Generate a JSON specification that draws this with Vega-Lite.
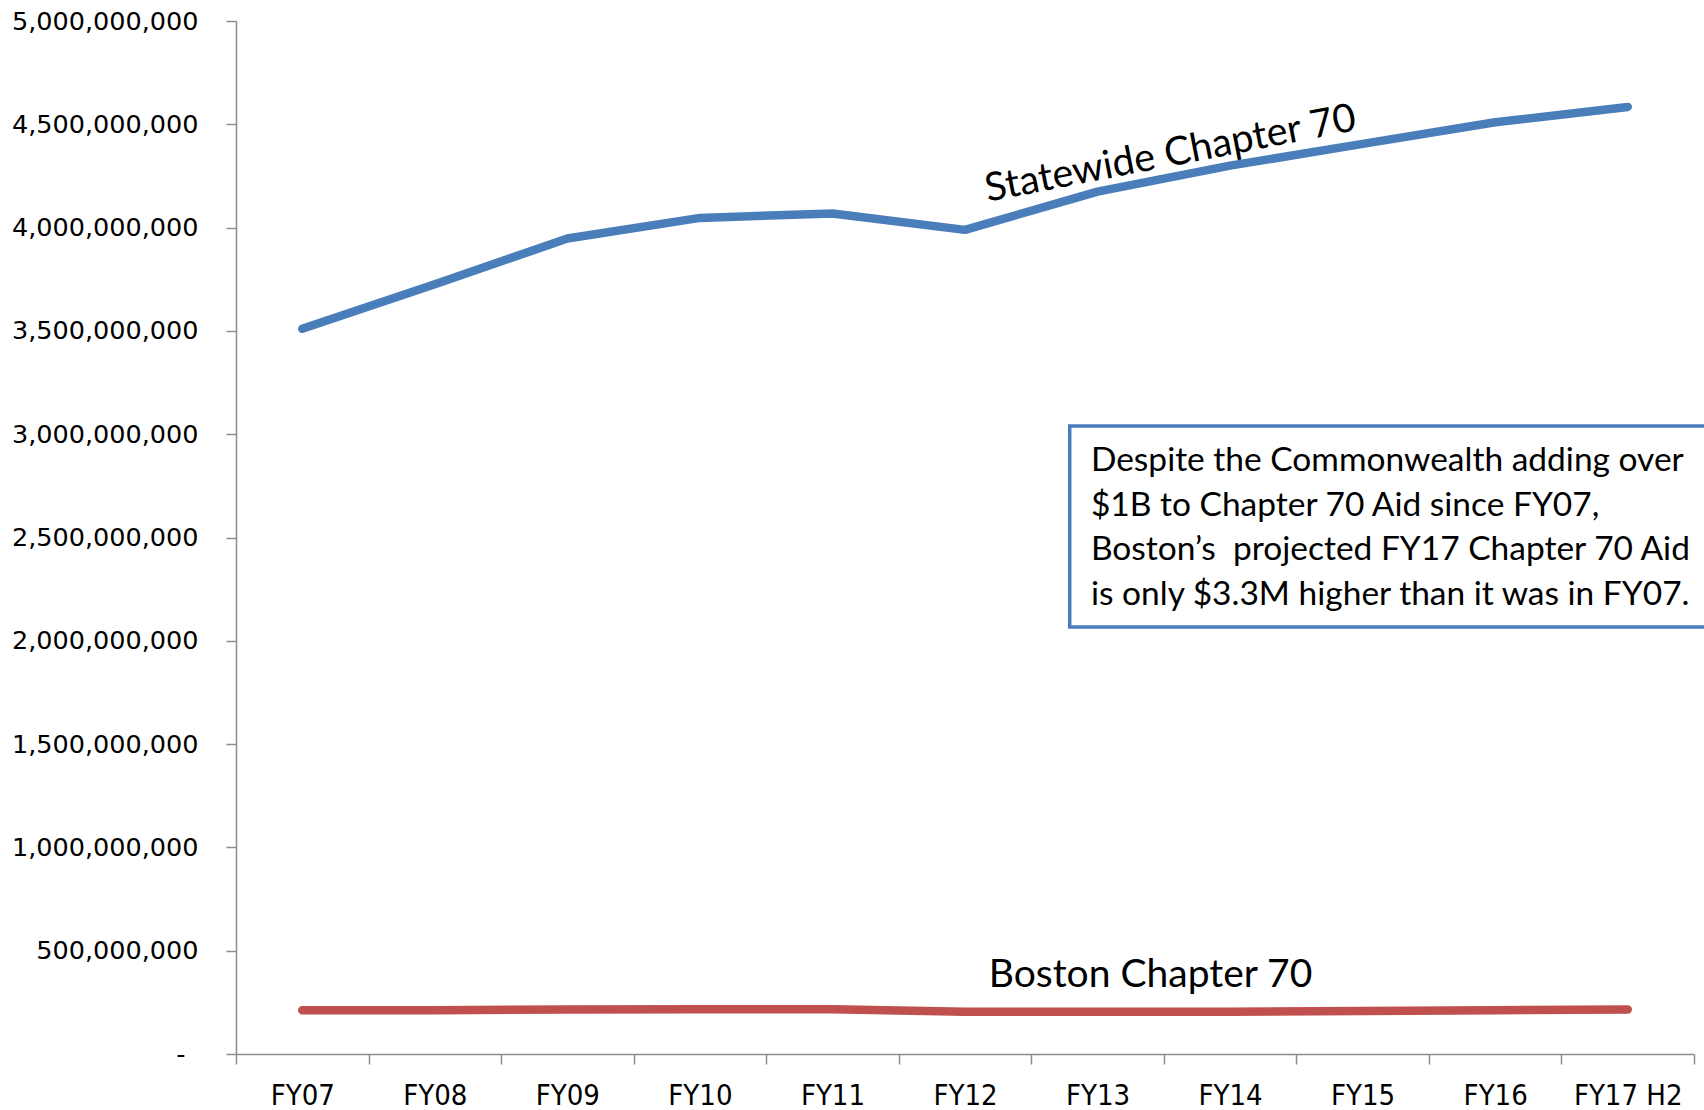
{
  "$schema": "https://vega.github.io/schema/vega-lite/v6.json",
  "width": 1458,
  "height": 1033,
  "autosize": {"type": "none"},
  "padding": {"left": 236, "top": 21, "right": 10, "bottom": 56},
  "background": "white",
  "config": {
    "view": {"stroke": null},
    "axisY": {
      "labelFont": "DejaVu Sans", "labelFontSize": 25.5, "labelColor": "#000000", "labelLimit": 400,
      "labelPadding": {"condition": {"test": "datum.value === 0", "value": 41}, "value": 28},
      "tickSize": 10, "tickColor": "#8c8c8c", "tickWidth": 1.5,
      "domainColor": "#8c8c8c", "domainWidth": 1.5, "grid": false, "labelOverlap": false
    }
  },
  "datasets": {
    "aid": [
      {"fy": "FY07", "series": "Statewide", "value": 3510000000},
      {"fy": "FY08", "series": "Statewide", "value": 3726000000},
      {"fy": "FY09", "series": "Statewide", "value": 3947000000},
      {"fy": "FY10", "series": "Statewide", "value": 4047000000},
      {"fy": "FY11", "series": "Statewide", "value": 4068000000},
      {"fy": "FY12", "series": "Statewide", "value": 3989000000},
      {"fy": "FY13", "series": "Statewide", "value": 4174000000},
      {"fy": "FY14", "series": "Statewide", "value": 4300000000},
      {"fy": "FY15", "series": "Statewide", "value": 4405000000},
      {"fy": "FY16", "series": "Statewide", "value": 4510000000},
      {"fy": "FY17 H2", "series": "Statewide", "value": 4584000000},
      {"fy": "FY07", "series": "Boston", "value": 212000000},
      {"fy": "FY08", "series": "Boston", "value": 212000000},
      {"fy": "FY09", "series": "Boston", "value": 215000000},
      {"fy": "FY10", "series": "Boston", "value": 216000000},
      {"fy": "FY11", "series": "Boston", "value": 216000000},
      {"fy": "FY12", "series": "Boston", "value": 204000000},
      {"fy": "FY13", "series": "Boston", "value": 204000000},
      {"fy": "FY14", "series": "Boston", "value": 204000000},
      {"fy": "FY15", "series": "Boston", "value": 208000000},
      {"fy": "FY16", "series": "Boston", "value": 212000000},
      {"fy": "FY17 H2", "series": "Boston", "value": 215300000}
    ],
    "note": [{"label": "annotation"}]
  },
  "resolve": {"scale": {"x": "independent"}},
  "layer": [
    {
      "data": {"name": "aid"},
      "mark": {"type": "line", "strokeWidth": 8.5, "strokeCap": "round", "strokeJoin": "round"},
      "encoding": {
        "x": {
          "field": "fy", "type": "ordinal", "bandPosition": 0.5,
          "sort": ["FY07","FY08","FY09","FY10","FY11","FY12","FY13","FY14","FY15","FY16","FY17 H2"],
          "scale": {"type": "band", "paddingInner": 0, "paddingOuter": 0},
          "axis": {
            "title": null, "tickBand": "extent", "labelAngle": 0,
            "labelFont": "Liberation Sans Narrow, DejaVu Sans Condensed, sans-serif",
            "labelFontSize": 29, "labelColor": "#000000",
            "labelBaseline": "middle", "labelPadding": 31,
            "tickSize": 10, "tickColor": "#8c8c8c", "tickWidth": 1.5,
            "domainColor": "#8c8c8c", "domainWidth": 1.5, "grid": false
          }
        },
        "y": {
          "field": "value", "type": "quantitative",
          "scale": {"domain": [0, 5000000000], "nice": false},
          "axis": {
            "title": null,
            "values": [0,500000000,1000000000,1500000000,2000000000,2500000000,3000000000,3500000000,4000000000,4500000000,5000000000],
            "labelExpr": "datum.value === 0 ? '-' : format(datum.value, ',')"
          }
        },
        "color": {
          "field": "series", "type": "nominal", "legend": null,
          "scale": {"domain": ["Statewide", "Boston"], "range": ["#4A7EBB", "#C0504D"]}
        }
      }
    },
    {
      "data": {"name": "note"},
      "mark": {"type": "rect", "fill": "white", "stroke": "#4A7EBB", "strokeWidth": 3.5, "clip": false},
      "encoding": {
        "x": {"datum": 6.29, "type": "quantitative", "scale": {"domain": [0, 11]}, "axis": null},
        "x2": {"datum": 11.3},
        "y": {"datum": 3040000000, "type": "quantitative", "axis": {
            "title": null,
            "values": [0,500000000,1000000000,1500000000,2000000000,2500000000,3000000000,3500000000,4000000000,4500000000,5000000000],
            "labelExpr": "datum.value === 0 ? '-' : format(datum.value, ',')"
          }},
        "y2": {"datum": 2067000000}
      }
    },
    {
      "data": {"name": "note"},
      "mark": {
        "type": "text", "align": "left", "baseline": "middle", "font": "Lato", "fontSize": 33.5,
        "lineHeight": 44.5, "color": "#000000",
        "text": ["Despite the Commonwealth adding over", "$1B to Chapter 70 Aid since FY07,", "Boston’s\u00a0 projected FY17 Chapter 70 Aid", "is only $3.3M higher than it was in FY07."]
      },
      "encoding": {
        "x": {"datum": 6.45, "type": "quantitative", "scale": {"domain": [0, 11]}, "axis": null},
        "y": {"datum": 2870000000, "type": "quantitative"}
      }
    },
    {
      "data": {"name": "note"},
      "mark": {"type": "text", "align": "center", "baseline": "middle", "font": "Lato", "fontSize": 39.5, "angle": -11, "color": "#000000", "text": "Statewide Chapter 70"},
      "encoding": {
        "x": {"datum": 7.05, "type": "quantitative", "scale": {"domain": [0, 11]}, "axis": null},
        "y": {"datum": 4356000000, "type": "quantitative"}
      }
    },
    {
      "data": {"name": "note"},
      "mark": {"type": "text", "align": "center", "baseline": "middle", "font": "Lato", "fontSize": 39, "color": "#000000", "text": "Boston Chapter 70"},
      "encoding": {
        "x": {"datum": 6.9, "type": "quantitative", "scale": {"domain": [0, 11]}, "axis": null},
        "y": {"datum": 382000000, "type": "quantitative"}
      }
    }
  ]
}
